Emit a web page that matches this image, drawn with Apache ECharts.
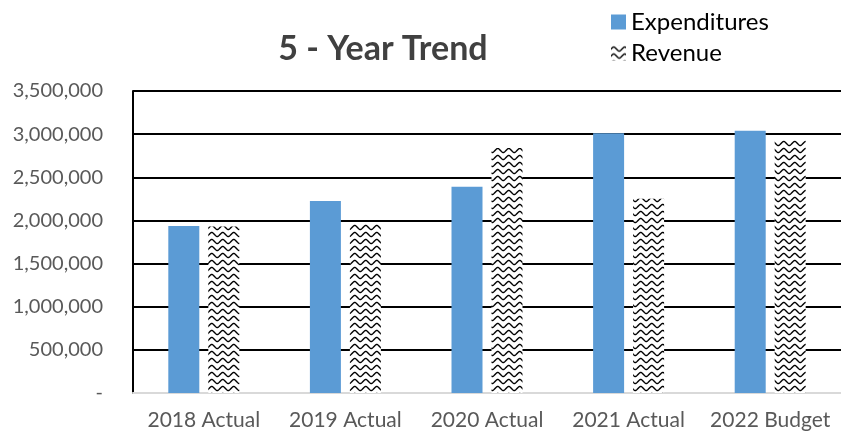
<!DOCTYPE html>
<html><head><meta charset="utf-8">
<script src="https://cdn.jsdelivr.net/npm/echarts@6/dist/echarts.min.js"></script>
<style>html,body{margin:0;padding:0;background:#fff}#c{width:841px;height:436px}</style>
</head><body><div id="c"></div>
<script>
const categories = ['2018 Actual','2019 Actual','2020 Actual','2021 Actual','2022 Budget'];
const expenditures = [1935000, 2225000, 2390000, 3010000, 3040000];
const revenue = [1930000, 1960000, 2840000, 2250000, 2930000];
const yTicks = [0, 500000, 1000000, 1500000, 2000000, 2500000, 3000000, 3500000];

function makePattern(){
  const c = document.createElement('canvas');
  c.width = 11; c.height = 7;
  const ctx = c.getContext('2d');
  ctx.fillStyle = '#fff'; ctx.fillRect(0,0,11,7);
  ctx.strokeStyle = '#000'; ctx.lineWidth = 1.4;
  ctx.beginPath();
  for (let x = -1; x <= 12; x += 0.5){
    const y = 3.5 - 2 * Math.cos((x - 2.75) / 11 * 2 * Math.PI) ;
    if (x === -1) ctx.moveTo(x, y); else ctx.lineTo(x, y);
  }
  ctx.stroke();
  return c;
}
const font = 'Lato, "Open Sans", sans-serif';
const chart = echarts.init(document.getElementById('c'), null, {renderer:'canvas'});
chart.setOption({
  animation:false,
  title:{text:'5 - Year Trend', left:378, top:27, textAlign:'center',
    textStyle:{fontFamily:font, fontSize:34, fontWeight:'bold', color:'#404040'}},
  legend:{orient:'vertical', left:606, top:5, itemGap:7, itemWidth:15, itemHeight:15,
    textStyle:{fontFamily:font, fontSize:24, color:'#000'},
    data:[{name:'Expenditures', icon:'rect'},{name:'Revenue', icon:'rect'}]},
  grid:{left:133, right:-2, top:91, bottom:43},
  xAxis:{type:'category', data:categories,
    axisLine:{lineStyle:{color:'#d9d9d9', width:2}}, axisTick:{show:false},
    axisLabel:{interval:0, fontFamily:font, fontSize:21, color:'#595959', margin:17}},
  yAxis:{type:'value', min:0, max:3500000, interval:500000,
    axisLine:{show:true, lineStyle:{color:'#000', width:2}}, axisTick:{show:false},
    splitLine:{lineStyle:{color:'#000', width:2}},
    axisLabel:{fontFamily:font, fontSize:20, color:'#595959', margin:30,
      formatter:v => v === 0 ? '-' : v.toLocaleString('en-US')}},
  series:[
    {name:'Expenditures', type:'bar', data:expenditures, barWidth:31, barGap:'29%',
      itemStyle:{color:'#5b9bd5'}},
    {name:'Revenue', type:'bar', data:revenue, barWidth:31,
      itemStyle:{color:{image:makePattern(), repeat:'repeat'}}}
  ]
});
</script></body></html>
